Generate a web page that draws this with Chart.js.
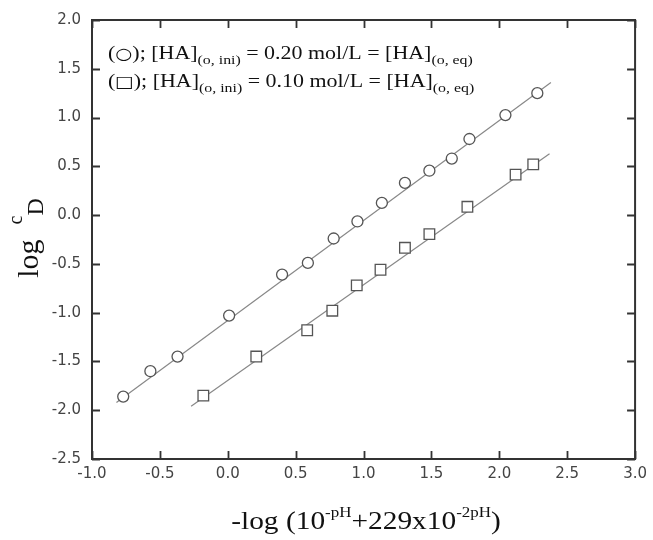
<!DOCTYPE html>
<html><head><meta charset="utf-8">
<script src="https://cdn.jsdelivr.net/npm/chart.js@4"></script>
<style>html,body{margin:0;padding:0;background:#fff;}</style>
</head><body>
<canvas id="c" width="653" height="540" style="width:653px;height:540px;display:block"></canvas>
<script>
// Circles: [HA](o,ini) = 0.20 mol/L
const circleX = [-0.77, -0.57, -0.37, 0.01, 0.40, 0.59, 0.78, 0.955, 1.135, 1.305, 1.485, 1.65, 1.78, 2.045, 2.28];
const circleY = [-1.86, -1.60, -1.45, -1.03, -0.61, -0.49, -0.24, -0.065, 0.125, 0.33, 0.455, 0.58, 0.78, 1.025, 1.25];
// Squares: [HA](o,ini) = 0.10 mol/L
const squareX = [-0.18, 0.21, 0.585, 0.77, 0.95, 1.125, 1.305, 1.485, 1.765, 2.12, 2.25];
const squareY = [-1.85, -1.45, -1.18, -0.98, -0.72, -0.56, -0.335, -0.195, 0.085, 0.415, 0.52];
// Linear fit endpoints
const fitCircleX = [-0.82, 2.38];
const fitCircleY = [-1.92, 1.36];
const fitSquareX = [-0.27, 2.37];
const fitSquareY = [-1.96, 0.63];
// Tick labels
const xTicks = [-1.0, -0.5, 0.0, 0.5, 1.0, 1.5, 2.0, 2.5, 3.0];
const yTicks = [-2.5, -2.0, -1.5, -1.0, -0.5, 0.0, 0.5, 1.0, 1.5, 2.0];
// Legend / titles text
const legendSymbols = ["\u25CB", "\u25A1"];
const legendConc = ["0.20", "0.10"];
const yTitleParts = [["log  ", 0], ["c", 2], ["D", 1]];
const xTitleParts = [["-log (10", 0], ["-pH", 1], ["+229x10", 0], ["-2pH", 1], [")", 0]];

const pts = (xs, ys) => xs.map((x, i) => ({x: x, y: ys[i]}));
const SERIF = '"Liberation Serif", "Times New Roman", serif';
const INK = '#333';

function drawParts(ctx, parts, styles, x, y, align, sx) {
  ctx.save();
  ctx.translate(x, y);
  ctx.scale(sx, 1);
  let total = 0;
  parts.forEach(([t, s]) => { ctx.font = styles[s].font; total += ctx.measureText(t).width; });
  let cx = align === 'center' ? -total / 2 : 0;
  parts.forEach(([t, s]) => {
    ctx.font = styles[s].font;
    ctx.fillText(t, cx, styles[s].dy);
    cx += ctx.measureText(t).width;
  });
  ctx.restore();
}

const decor = {
  id: 'decor',
  afterDraw(chart) {
    const {ctx, chartArea: a, scales: {x, y}} = chart;
    ctx.save();
    ctx.strokeStyle = INK;
    ctx.lineWidth = 2;
    ctx.strokeRect(a.left, a.top, a.right - a.left, a.bottom - a.top);
    const tl = 8;
    ctx.lineWidth = 1.8;
    ctx.beginPath();
    xTicks.forEach(v => {
      const px = Math.round(x.getPixelForValue(v)) + 0.5;
      ctx.moveTo(px, a.bottom); ctx.lineTo(px, a.bottom - tl);
      ctx.moveTo(px, a.top); ctx.lineTo(px, a.top + tl);
    });
    yTicks.forEach(v => {
      const py = Math.round(y.getPixelForValue(v)) + 0.5;
      ctx.moveTo(a.left, py); ctx.lineTo(a.left + tl, py);
      ctx.moveTo(a.right, py); ctx.lineTo(a.right - tl, py);
    });
    ctx.stroke();

    ctx.fillStyle = '#111';
    ctx.textBaseline = 'alphabetic';
    ctx.textAlign = 'left';
    const legStyles = [
      {font: '18px ' + SERIF, dy: 0},
      {font: '13px ' + SERIF, dy: 5},
      {font: '16px "DejaVu Sans", sans-serif', dy: -0.5}
    ];
    legendSymbols.forEach((sym, i) => {
      const parts = [["(", 0], [sym, 2], ["); [HA]", 0], ["(o, ini)", 1],
                     [" = " + legendConc[i] + " mol/L = [HA]", 0], ["(o, eq)", 1]];
      drawParts(ctx, parts, legStyles, a.left + 16, a.top + 39 + i * 28, 'left', 1.22);
    });

    // x title
    const xs = [{font: '26px ' + SERIF, dy: 0}, {font: '15px ' + SERIF, dy: -12}];
    drawParts(ctx, xTitleParts, xs, 366, 529, 'center', 1.13);

    // y title
    ctx.save();
    ctx.translate(38, 238);
    ctx.rotate(-Math.PI / 2);
    const ys = [{font: '30px ' + SERIF, dy: 0}, {font: '24px ' + SERIF, dy: 5}, {font: '20px ' + SERIF, dy: -16}];
    drawParts(ctx, yTitleParts, ys, 0, 0, 'center', 1);
    ctx.restore();
    ctx.restore();
  }
};

new Chart(document.getElementById('c'), {
  type: 'scatter',
  data: {
    datasets: [
      {data: pts(circleX, circleY), pointStyle: 'circle', pointRadius: 5.5, pointBorderWidth: 1.3,
       borderColor: '#555', backgroundColor: '#fff', showLine: false},
      {data: pts(squareX, squareY), pointStyle: 'rect', pointRadius: 7.5, pointBorderWidth: 1.3,
       borderColor: '#555', backgroundColor: '#fff', showLine: false},
      {data: pts(fitCircleX, fitCircleY), showLine: true, pointRadius: 0, borderColor: '#888', borderWidth: 1.2},
      {data: pts(fitSquareX, fitSquareY), showLine: true, pointRadius: 0, borderColor: '#888', borderWidth: 1.2}
    ]
  },
  options: {
    responsive: false, animation: false, devicePixelRatio: 1,
    layout: {padding: {top: 15, right: 14, left: 0, bottom: 0}},
    plugins: {legend: {display: false}, tooltip: {enabled: false}},
    scales: {
      x: {
        type: 'linear', min: -1, max: 3,
        afterBuildTicks: s => { s.ticks = xTicks.map(v => ({value: v})); },
        ticks: {callback: v => v.toFixed(1), font: {family: '"DejaVu Sans", sans-serif', size: 15},
                color: '#444', padding: 6, maxRotation: 0, autoSkip: false},
        grid: {display: false, drawTicks: false}, border: {display: false},
        afterFit: s => { s.height = 81; }
      },
      y: {
        type: 'linear', min: -2.5, max: 2,
        afterBuildTicks: s => { s.ticks = yTicks.map(v => ({value: v})); },
        ticks: {callback: v => v.toFixed(1), font: {family: '"DejaVu Sans", sans-serif', size: 15},
                color: '#444', padding: 11, autoSkip: false},
        grid: {display: false, drawTicks: false}, border: {display: false},
        afterFit: s => { s.width = 92; }
      }
    }
  },
  plugins: [decor]
});
</script>
</body></html>
